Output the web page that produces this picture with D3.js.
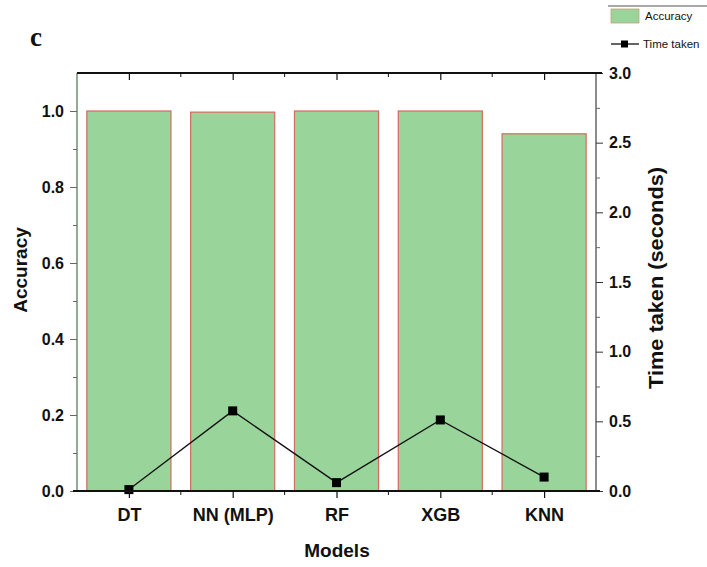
<!DOCTYPE html>
<html><head><meta charset="utf-8">
<script src="https://cdn.jsdelivr.net/npm/d3@7"></script>
<style>body{margin:0;background:#fff}svg{display:block}</style>
</head><body><svg id="c" width="707" height="567"></svg>
<script>
const models = ["DT","NN (MLP)","RF","XGB","KNN"];
const accuracy = [1.0, 0.997, 1.0, 1.0, 0.94];
const timeTaken = [0.01, 0.575, 0.06, 0.51, 0.10];
const accTicks = [0.0,0.2,0.4,0.6,0.8,1.0];
const timeTicks = [0.0,0.5,1.0,1.5,2.0,2.5,3.0];

const svg = d3.select("#c");
const L=77, R=596, T=73, B=491;
const x = d3.scaleBand().domain(models).range([L,R]).paddingInner(0.19).paddingOuter(0.095);
const xc = d3.scalePoint().domain(models).range([L,R]).padding(0.5);
const yA = d3.scaleLinear().domain([0,1.1]).range([B,T]);
const yT = d3.scaleLinear().domain([0,3]).range([B,T]);
const font = "'Liberation Sans', Arial, sans-serif";

// bars
svg.append("g").selectAll("rect").data(models).join("rect")
  .attr("x", d=>x(d)).attr("width", x.bandwidth())
  .attr("y", (d,i)=>yA(accuracy[i])).attr("height",(d,i)=>B-yA(accuracy[i]))
  .attr("fill","#99d49a").attr("stroke","#d36a5e").attr("stroke-width",1.2);

// line
const line = d3.line().x((d,i)=>xc(models[i])).y(d=>yT(d));
svg.append("path").datum(timeTaken).attr("d",line).attr("fill","none").attr("stroke","#111").attr("stroke-width",1.3);
svg.append("g").selectAll("rect").data(timeTaken).join("rect")
  .attr("x",(d,i)=>xc(models[i])-4.5).attr("y",d=>yT(d)-4.5).attr("width",9).attr("height",9).attr("fill","#000");

// left axis
const gl = svg.append("g").attr("transform",`translate(${L},0)`)
  .call(d3.axisLeft(yA).tickValues(accTicks).tickFormat(d3.format(".1f")).tickSize(7).tickPadding(6));
gl.select(".domain").attr("stroke","#6f8f72").attr("stroke-width",1.5).attr("d",`M0,${B}V${T}`);
gl.selectAll(".tick line").attr("stroke","#666");
gl.selectAll("text").attr("font-family",font).attr("font-weight","bold").attr("font-size",16).attr("fill","#111");
svg.append("g").attr("transform",`translate(${L},0)`)
  .call(d3.axisLeft(yA).tickValues([0.1,0.3,0.5,0.7,0.9]).tickFormat("").tickSize(4))
  .call(g=>{g.select(".domain").remove();g.selectAll("line").attr("stroke","#666");});

// right axis
const gr = svg.append("g").attr("transform",`translate(${R},0)`)
  .call(d3.axisRight(yT).tickValues(timeTicks).tickFormat(d3.format(".1f")).tickSize(7).tickPadding(6));
gr.select(".domain").attr("stroke","#666").attr("stroke-width",1.5).attr("d",`M0,${B}V${T}`);
gr.selectAll(".tick line").attr("stroke","#333");
gr.selectAll("text").attr("font-family",font).attr("font-weight","bold").attr("font-size",16).attr("fill","#111");
svg.append("g").attr("transform",`translate(${R},0)`)
  .call(d3.axisRight(yT).tickValues([0.25,0.75,1.25,1.75,2.25,2.75]).tickFormat("").tickSize(4))
  .call(g=>{g.select(".domain").remove();g.selectAll("line").attr("stroke","#666");});

// bottom axis
const boundaries = [1,2,3,4].map(i=>L+i*(R-L)/5);
const gb = svg.append("g").attr("transform",`translate(0,${B})`)
  .call(d3.axisBottom(xc).tickSize(7).tickPadding(10));
gb.select(".domain").attr("stroke","#111").attr("stroke-width",1.8).attr("d",`M${L-4},0H${R+4}`);
gb.selectAll(".tick line").attr("stroke","#111").attr("stroke-width",1.2);
gb.selectAll("text").attr("font-family",font).attr("font-weight","bold").attr("font-size",18).attr("fill","#111");
svg.append("g").selectAll("line").data(boundaries).join("line")
  .attr("x1",d=>d).attr("x2",d=>d).attr("y1",B).attr("y2",B+4).attr("stroke","#111");

// top axis
const gt = svg.append("g").attr("transform",`translate(0,${T})`)
  .call(d3.axisTop(xc).tickSize(-7).tickFormat(""));
gt.select(".domain").attr("stroke","#111").attr("stroke-width",1.8).attr("d",`M${L},0H${R+6}`);
gt.selectAll(".tick line").attr("stroke","#111").attr("stroke-width",1.2);
svg.append("g").selectAll("line").data(boundaries).join("line")
  .attr("x1",d=>d).attr("x2",d=>d).attr("y1",T).attr("y2",T+4).attr("stroke","#111");

// titles
svg.append("text").attr("transform","translate(27,270) rotate(-90)").attr("text-anchor","middle")
  .attr("font-family",font).attr("font-weight","bold").attr("font-size",19).attr("fill","#111").text("Accuracy");
svg.append("text").attr("transform","translate(663,278) rotate(-90)").attr("text-anchor","middle")
  .attr("font-family",font).attr("font-weight","bold").attr("font-size",20).attr("textLength",222).attr("lengthAdjust","spacingAndGlyphs").attr("fill","#111").text("Time taken (seconds)");
svg.append("text").attr("x",337).attr("y",557).attr("text-anchor","middle")
  .attr("font-family",font).attr("font-weight","bold").attr("font-size",19).attr("fill","#111").text("Models");
svg.append("text").attr("x",30).attr("y",46)
  .attr("font-family","'Liberation Serif', 'Times New Roman', serif").attr("font-weight","bold").attr("font-size",27).attr("fill","#111").text("c");

// legend
svg.append("line").attr("x1",608).attr("x2",707).attr("y1",6).attr("y2",6).attr("stroke","#555").attr("stroke-width",1.2);
svg.append("rect").attr("x",611).attr("y",9).attr("width",28).attr("height",14).attr("fill","#99d49a").attr("stroke","#c9a07a").attr("stroke-width",0.8);
svg.append("text").attr("x",645).attr("y",20).attr("font-family",font).attr("font-size",11.5).attr("fill","#111").text("Accuracy");
svg.append("line").attr("x1",611).attr("x2",639).attr("y1",44).attr("y2",44).attr("stroke","#111").attr("stroke-width",1.3);
svg.append("rect").attr("x",621).attr("y",40.5).attr("width",7).attr("height",7).attr("fill","#000");
svg.append("text").attr("x",643).attr("y",48).attr("font-family",font).attr("font-size",11.5).attr("fill","#111").text("Time taken");
</script></body></html>
